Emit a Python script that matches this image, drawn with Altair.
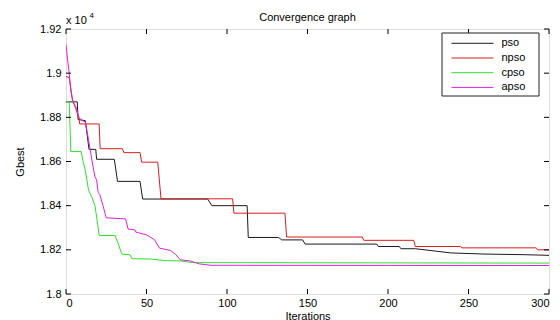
import altair as alt
import pandas as pd

# ---- data (Gbest values, raw units; axis shown x 10^4) ----
pso_x = [0, 7, 7.5, 12, 14.3, 18.5, 19, 30, 32, 46, 47.6, 88, 90.6, 112.5, 113.2, 132, 134, 147, 148.5, 193, 194, 207, 208, 217, 231, 239, 259, 285, 300]
pso_y = [18870, 18870, 18790, 18785, 18655, 18655, 18610, 18610, 18510, 18510, 18430, 18430, 18400, 18400, 18256, 18256, 18245, 18245, 18226, 18226, 18215, 18215, 18205, 18205, 18193, 18186, 18181, 18178, 18175]

npso_x = [0, 2, 4, 6, 8, 8.5, 20.6, 21.2, 35, 36, 46, 47, 57, 59, 103.5, 104.3, 136, 137, 184, 185, 216, 217, 245, 246, 292, 293, 300]
npso_y = [18985, 18980, 18880, 18840, 18800, 18770, 18770, 18658, 18658, 18640, 18640, 18597, 18597, 18431, 18431, 18366, 18366, 18258, 18258, 18243, 18243, 18215, 18215, 18209, 18209, 18200, 18200]

cpso_x = [0, 2, 3, 9.5, 10.5, 12, 14, 16, 18, 20, 20.6, 30.4, 32.4, 34, 35, 39.7, 41, 53, 62, 71, 79, 300]
cpso_y = [18870, 18870, 18645, 18645, 18605, 18560, 18470, 18440, 18400, 18300, 18265, 18265, 18230, 18193, 18180, 18178, 18160, 18158, 18151, 18150, 18142, 18140]

apso_x = [0, 1, 2, 3, 4, 5, 6, 8, 10, 12, 13.5, 16, 18, 19, 20, 21, 23, 25, 37, 38.6, 42.8, 43.5, 50, 55, 58, 65, 68, 71, 77, 83, 90, 300]
apso_y = [19130, 19060, 19000, 18920, 18880, 18860, 18850, 18800, 18785, 18780, 18720, 18610, 18530, 18517, 18460, 18450, 18400, 18345, 18340, 18294, 18290, 18280, 18268, 18246, 18208, 18197, 18180, 18155, 18150, 18136, 18130, 18129]

series_names = ["pso", "npso", "cpso", "apso"]
series_colors = ["#1a1a1a", "#dd1c1c", "#2ee02e", "#e020e0"]

x_ticks = [0, 50, 100, 150, 200, 250, 300]
y_ticks = [18000, 18200, 18400, 18600, 18800, 19000, 19200]

chart_title = "Convergence graph"

rows = []
for name, xs, ys in zip(series_names, [pso_x, npso_x, cpso_x, apso_x], [pso_y, npso_y, cpso_y, apso_y]):
    for i, (a, b) in enumerate(zip(xs, ys)):
        rows.append({"series": name, "iter": a, "gbest": b, "order": i})
df = pd.DataFrame(rows)

W, H = 483, 265
FONT = "Liberation Sans"

xscale = alt.Scale(domain=[0, 300], nice=False)
yscale = alt.Scale(domain=[18000, 19200], nice=False, zero=False)
cscale = alt.Scale(domain=series_names, range=series_colors)

lines = alt.Chart(df).mark_line(strokeWidth=1, clip=True).encode(
    x=alt.X("iter:Q", scale=xscale, title="Iterations",
            axis=alt.Axis(values=x_ticks, ticks=False, domain=False, grid=False,
                          labelFont=FONT, labelFontSize=11, labelColor="black",
                          labelPadding=3, titleFont=FONT, titleFontSize=11,
                          titleFontWeight="normal", titleColor="black", titlePadding=2)),
    y=alt.Y("gbest:Q", scale=yscale, title="Gbest",
            axis=alt.Axis(values=y_ticks, ticks=False, domain=False, grid=False,
                          labelExpr="format(datum.value/10000, '.3~g')",
                          labelFont=FONT, labelFontSize=11, labelColor="black",
                          labelPadding=5, titleFont=FONT, titleFontSize=11,
                          titleFontWeight="normal", titleColor="black", titlePadding=14)),
    color=alt.Color("series:N", scale=cscale, legend=None),
    order="order:Q",
)

xt = pd.DataFrame({"iter": x_ticks})
yt = pd.DataFrame({"gbest": y_ticks})
tick_len = 5
bottom_ticks = alt.Chart(xt).mark_rule(color="black", strokeWidth=1).encode(
    x=alt.X("iter:Q", scale=xscale), y=alt.value(H), y2=alt.value(H - tick_len))
top_ticks = alt.Chart(xt).mark_rule(color="black", strokeWidth=1).encode(
    x=alt.X("iter:Q", scale=xscale), y=alt.value(0), y2=alt.value(tick_len))
left_ticks = alt.Chart(yt).mark_rule(color="black", strokeWidth=1).encode(
    y=alt.Y("gbest:Q", scale=yscale, axis=None), x=alt.value(0), x2=alt.value(tick_len))
right_ticks = alt.Chart(yt).mark_rule(color="black", strokeWidth=1).encode(
    y=alt.Y("gbest:Q", scale=yscale, axis=None), x=alt.value(W), x2=alt.value(W - tick_len))

one = pd.DataFrame({"t": [chart_title]})
title_txt = alt.Chart(one).mark_text(
    font=FONT, fontSize=11, align="center", baseline="alphabetic", color="black").encode(
    text="t:N", x=alt.value(W / 2), y=alt.value(-8))

exp_base = alt.Chart(pd.DataFrame({"t": ["x 10"]})).mark_text(
    font=FONT, fontSize=11, align="left", baseline="alphabetic", color="black").encode(
    text="t:N", x=alt.value(0), y=alt.value(-5))
exp_sup = alt.Chart(pd.DataFrame({"t": ["4"]})).mark_text(
    font=FONT, fontSize=8, align="left", baseline="alphabetic", color="black").encode(
    text="t:N", x=alt.value(23.5), y=alt.value(-11))

# ---- legend (drawn manually) ----
leg_df = pd.DataFrame({"series": series_names})
leg_y = alt.Y("series:N", scale=alt.Scale(type="point", domain=series_names, range=[14.3, 58.4], padding=0), axis=None)
leg_box = alt.Chart(pd.DataFrame({"t": [0]})).mark_rect(fill="white", stroke="#222222", strokeWidth=1).encode(
    x=alt.value(376), x2=alt.value(473), y=alt.value(4), y2=alt.value(67))
leg_lines = alt.Chart(leg_df).mark_rule(strokeWidth=1).encode(
    x=alt.value(385.5), x2=alt.value(427.5), y=leg_y,
    color=alt.Color("series:N", scale=cscale, legend=None))
leg_text = alt.Chart(leg_df).mark_text(font=FONT, fontSize=11, align="left", baseline="middle", color="black").encode(
    x=alt.value(435.5), y=leg_y, text="series:N")

chart = alt.layer(lines, bottom_ticks, top_ticks, left_ticks, right_ticks,
                  title_txt, exp_base, exp_sup, leg_box, leg_lines, leg_text).resolve_scale(
    y="independent"
).properties(
    width=W, height=H,
    autosize=alt.AutoSizeParams(type="none"),
    padding={"left": 58, "top": 21, "right": 3, "bottom": 26},
).configure_view(stroke="#222222", strokeWidth=1).configure(background="white")

chart.save("out.html", embed_options={"renderer": "svg", "actions": False})
